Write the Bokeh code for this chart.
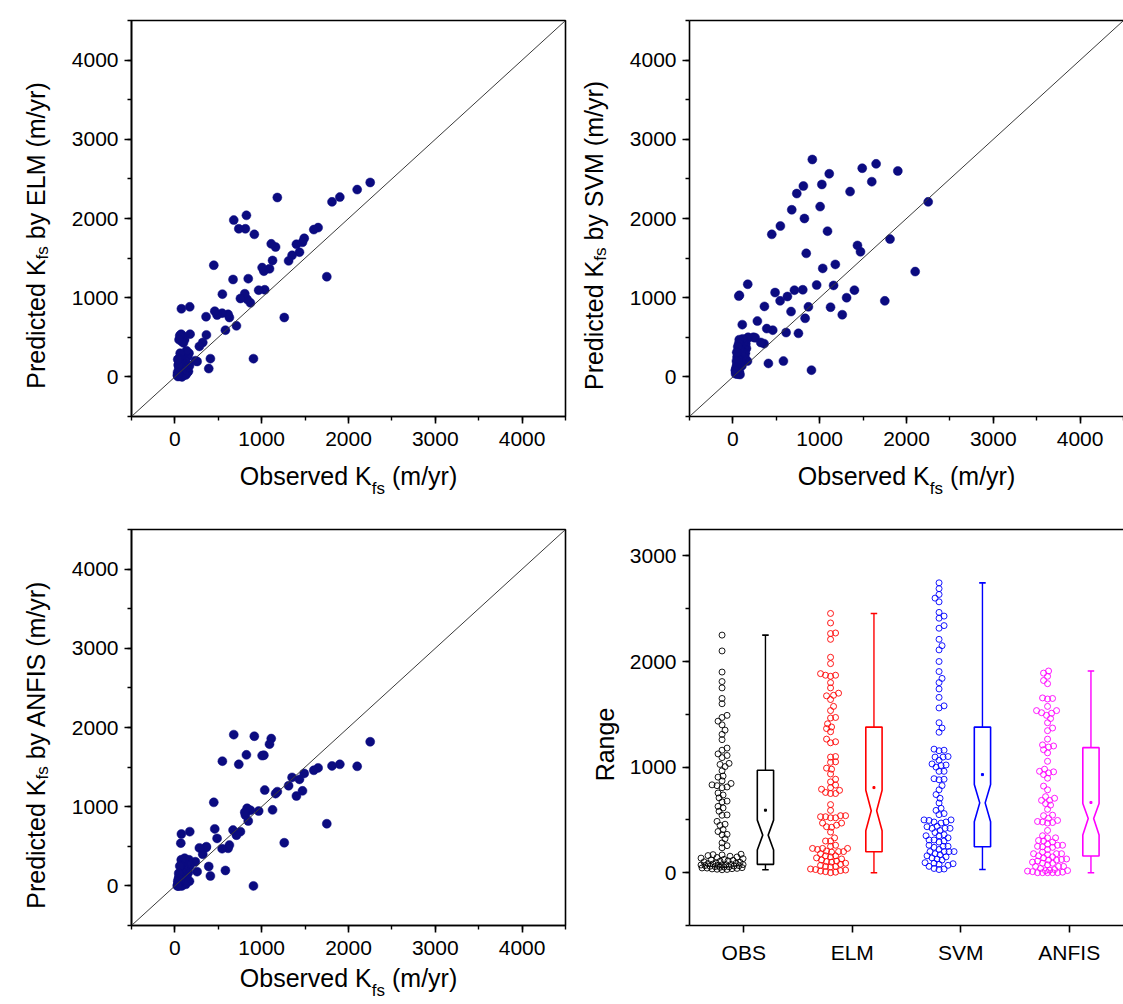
import numpy as np
from bokeh.plotting import figure
from bokeh.layouts import column, row
from bokeh.models import Range1d, SingleIntervalTicker, FixedTicker, Slope, LinearAxis
from bokeh.embed import file_html
from bokeh.resources import INLINE

# ---------------- data ----------------
observed = [2250, 2100, 1900, 1810, 1750, 1650, 1600, 1490, 1470, 1435, 1400, 1350, 1310, 1260,
            1180, 1160, 1125, 1110, 1090, 1035, 1025, 1005, 965, 915, 905, 870, 845, 832, 824,
            812, 805, 755, 736, 709, 678, 670, 628, 613, 582, 547, 544, 486, 459, 448, 409, 390,
            363, 359, 321, 282, 256, 236, 171, 75, 68,
            175, 168, 162, 156, 149, 144, 138, 133, 126, 121, 117, 112, 108, 103, 98, 94, 89, 86,
            82, 78, 77, 74, 73, 70, 67, 63, 61, 58, 56, 53, 51, 48, 45, 44, 41, 38, 36, 33, 31, 28]
pred_elm = [2455, 2365, 2270, 2210, 1265, 1885, 1860, 1750, 1700, 1575, 1675, 1535, 1465, 750,
            2265, 1640, 1470, 1680, 1365, 1100, 1335, 1380, 1095, 1800, 230, 935, 1240, 980, 2040,
            1870, 1050, 990, 1870, 645, 1980, 1230, 750, 790, 590, 1045, 805, 780, 830, 1410, 230, 105,
            530, 760, 435, 385, 195, 205, 885, 860, 530,
            540, 140, 300, 70, 260, 55, 160, 330, 25, 200, 80, 470, 30, 120, 430, 160, 100, 520,
            0, 450, 200, 60, 540, 130, 250, 15, 300, 90, 520, 180, 10, 470, 110, 230, 35, 150, 5, 220, 60, 20]
pred_svm = [2210, 1330, 2600, 1740, 960, 2690, 2465, 2635, 1580, 1660, 1095, 2340, 1000, 785,
            1420, 1155, 880, 2565, 1840, 1370, 2430, 2150, 1160, 2745, 85, 885, 1560, 740, 2000,
            2410, 1100, 550, 2315, 1095, 2110, 825, 1015, 560, 200, 1905, 960, 1065, 590, 1800, 170, 610,
            890, 420, 435, 705, 495, 500, 1170, 1030, 1020,
            500, 200, 480, 360, 420, 300, 250, 350, 440, 310, 260, 480, 660, 140, 330, 290, 200, 400,
            30, 350, 160, 70, 470, 240, 420, 130, 220, 90, 380, 180, 35, 250, 150, 310, 200, 120, 60, 95, 40, 80]
pred_anfis = [1820, 1510, 1535, 1515, 785, 1490, 1460, 1420, 1200, 1345, 1135, 1370, 1265, 545,
              1190, 1165, 960, 1860, 1790, 1210, 1650, 1645, 945, 1890, 0, 955, 820, 980, 1655,
              895, 930, 685, 1535, 640, 1910, 705, 515, 475, 195, 1575, 470, 600, 720, 1055, 125, 245,
              495, 485, 400, 480, 180, 305, 685, 655, 540,
              260, 60, 330, 170, 300, 220, 120, 270, 20, 180, 90, 350, 130, 25, 240, 150, 60, 290,
              0, 180, 110, 15, 330, 100, 260, 5, 140, 40, 250, 75, 0, 120, 20, 160, 90, 30, 0, 60, 10, 0]

box_categories = ["OBS", "ELM", "SVM", "ANFIS"]
box_colors = ["#000000", "#ff0000", "#0000ff", "#ff00ff"]
box_q1 = [79, 199, 246, 158]
box_q3 = [970, 1379, 1379, 1184]
box_median = [356, 586, 661, 513]
box_notch_lo = [214, 397, 482, 356]
box_notch_hi = [498, 781, 835, 655]
box_whisker_lo = [28, 0, 30, 0]
box_whisker_hi = [2250, 2455, 2745, 1910]
box_mean = [592, 806, 929, 665]

# ---------------- styling / geometry ----------------
FONT = "Liberation Sans"
NAVY = "#0b0b80"
FW = 434
FH = 396
SC_RANGE = (-500, 4500)
BOX_YRANGE = (-500, 3250)
BOX_XRANGE = (0.5, 4.5)
LABEL_PX = 25
SUB_PX = 17

ARIAL = {' ': 278, '(': 333, ')': 333, '/': 278, 'A': 667, 'E': 667, 'F': 611, 'I': 278,
         'K': 667, 'L': 556, 'M': 833, 'N': 722, 'O': 778, 'P': 667, 'R': 722, 'S': 667,
         'V': 667, 'a': 556, 'b': 556, 'c': 500, 'd': 556, 'e': 556, 'f': 278, 'g': 556,
         'i': 222, 'm': 833, 'n': 556, 'r': 333, 's': 500, 't': 278, 'v': 500, 'y': 500}


def tw(s, size):
    return sum(ARIAL.get(ch, 556) for ch in s) * size / 1000.0


def make_fig(width, height, bl, br, bt, bb, xr, yr, open_right=False):
    p = figure(width=width, height=height, x_range=Range1d(*xr), y_range=Range1d(*yr),
               output_backend="svg", toolbar_location=None,
               min_border_left=bl, min_border_right=br, min_border_top=bt, min_border_bottom=bb)
    p.grid.visible = False
    p.background_fill_color = "white"
    p.border_fill_color = "white"
    for ax in (p.below[0], p.left[0]):
        ax.axis_line_color = "black"
        ax.axis_line_width = 1.6
        ax.major_tick_line_color = "black"
        ax.major_tick_line_width = 1.6
        ax.minor_tick_line_color = "black"
        ax.minor_tick_line_width = 1.4
        ax.major_tick_in = 0
        ax.major_tick_out = 7
        ax.minor_tick_in = 0
        ax.minor_tick_out = 4
        ax.major_label_text_font = FONT
        ax.major_label_text_font_size = "21px"
        ax.major_label_text_color = "black"
    p.left[0].major_label_standoff = 6
    p.below[0].major_label_standoff = 8
    if open_right:
        # the frame runs past the page edge: draw only its top edge, no right edge
        p.outline_line_color = None
        top = LinearAxis(ticker=FixedTicker(ticks=[], minor_ticks=[]), axis_line_color="black",
                         axis_line_width=1.6, major_tick_out=0, major_tick_in=0,
                         minor_tick_out=0, minor_tick_in=0, major_label_standoff=0,
                         major_label_text_font_size="1px")
        p.add_layout(top, "above")
    else:
        p.outline_line_color = "black"
        p.outline_line_width = 1.6
        p.outline_line_alpha = 1.0
    return p


def text_axis(p, side, positions, texts, size, standoff, vertical=False):
    ax = LinearAxis(ticker=FixedTicker(ticks=positions, minor_ticks=[]),
                    major_label_overrides=dict(zip(positions, texts)),
                    axis_line_color=None, major_tick_line_color=None, minor_tick_line_color=None,
                    major_tick_out=0, major_tick_in=0, minor_tick_out=0, minor_tick_in=0,
                    major_label_text_font=FONT, major_label_text_font_size=f"{size}px",
                    major_label_text_color="black", major_label_standoff=standoff)
    if vertical:
        ax.major_label_orientation = "vertical"
    p.add_layout(ax, side)


def pieces_centers(parts, start_px):
    out = []
    pos = start_px
    for t, s, gap in parts:
        pos += gap
        w = tw(t, s)
        out.append(pos + w / 2)
        pos += w
    return out


def add_split_label(p, side, rng, flen, main1, sub, main2, centre_px, s_main, s_sub, vertical):
    sp = tw(" ", LABEL_PX)
    parts = [(main1, LABEL_PX, 0), (sub, SUB_PX, 0), (main2, LABEL_PX, sp)]
    total = sum(tw(t, s) for t, s, _ in parts) + sp
    c = pieces_centers(parts, centre_px - total / 2)
    upp = (rng[1] - rng[0]) / flen
    d = [int(round(rng[0] + v * upp)) for v in c]
    text_axis(p, side, [d[0], d[2]], [main1, main2], LABEL_PX, s_main, vertical)
    text_axis(p, side, [d[1]], [sub], SUB_PX, s_sub, vertical)


def scatter_panel(width, height, bl, br, bt, bb, pred, model, s_x, open_right=False):
    p = make_fig(width, height, bl, br, bt, bb, SC_RANGE, SC_RANGE, open_right)
    for ax in (p.below[0], p.left[0]):
        ax.ticker = SingleIntervalTicker(interval=1000, num_minor_ticks=2)
    p.add_layout(Slope(gradient=1, y_intercept=0, line_color="#3a3a3a", line_width=1))
    p.scatter(observed, pred, size=9, fill_color=NAVY, line_color=NAVY, line_width=0.5)
    add_split_label(p, "below", SC_RANGE, FW, "Observed K", "fs", "(m/yr)", FW / 2,
                    s_x, -14, False)
    add_split_label(p, "left", SC_RANGE, FH, "Predicted K", "fs", f"by {model} (m/yr)",
                    FH / 2 - 17, 18, -33, True)
    return p


# Page has no margin: top frames at y 20..416, bottom frames at 529..925
p1 = scatter_panel(575, 510, 131, 10, 20, 94, pred_elm, "ELM", 13)
p2 = scatter_panel(548, 510, 114, 0, 20, 94, pred_svm, "SVM", 13, open_right=True)
p3 = scatter_panel(575, 492, 131, 10, 19, 77, pred_anfis, "ANFIS", 6)

# ---------------- box panel ----------------
p4 = make_fig(548, 492, 114, 0, 19, 77, BOX_XRANGE, BOX_YRANGE, open_right=True)
p4.left[0].ticker = SingleIntervalTicker(interval=1000, num_minor_ticks=2)
p4.below[0].ticker = FixedTicker(ticks=[1, 2, 3, 4], minor_ticks=[])
p4.below[0].major_label_overrides = {i + 1: c for i, c in enumerate(box_categories)}

x_ppu = FW / (BOX_XRANGE[1] - BOX_XRANGE[0])
y_ppu = FH / (BOX_YRANGE[1] - BOX_YRANGE[0])


def swarm_offsets(vals, d=4.8, max_px=21):
    vals = np.asarray(vals, float)
    order = np.argsort(vals, kind="stable")
    cands = [0.0]
    for k in range(1, max_px + 1):
        cands += [float(k), float(-k)] if k % 2 else [float(-k), float(k)]
    px, py = [], []
    out = np.zeros(len(vals))
    for i in order:
        y = vals[i] * y_ppu
        best, best_score = 0.0, -1.0
        if px:
            ax = np.array(px)
            ay = np.array(py)
            for c in cands:
                dm = float(np.min((ax - c) ** 2 + (ay - y) ** 2))
                if dm >= d * d:
                    best = c
                    break
                if dm > best_score:
                    best_score, best = dm, c
        px.append(best)
        py.append(y)
        out[i] = best
    return out / x_ppu


series = [observed, pred_elm, pred_svm, pred_anfis]
half_w = 0.075
notch_w = 0.025
cap_w = 0.03
for i, (vals, col) in enumerate(zip(series, box_colors)):
    c = i + 1
    xs = (c - 0.2) + swarm_offsets(vals)
    p4.scatter(xs, vals, size=6, fill_alpha=0, line_color=col, line_width=0.9)
    bc = c + 0.2
    bx = [bc - half_w, bc + half_w, bc + half_w, bc + notch_w, bc + half_w, bc + half_w,
          bc - half_w, bc - half_w, bc - notch_w, bc - half_w]
    by = [box_q1[i], box_q1[i], box_notch_lo[i], box_median[i], box_notch_hi[i], box_q3[i],
          box_q3[i], box_notch_hi[i], box_median[i], box_notch_lo[i]]
    p4.patch(bx, by, fill_alpha=0, line_color=col, line_width=1.6)
    p4.segment(x0=[bc, bc], y0=[box_q3[i], box_q1[i]], x1=[bc, bc],
               y1=[box_whisker_hi[i], box_whisker_lo[i]], line_color=col, line_width=1.4)
    p4.segment(x0=[bc - cap_w, bc - cap_w], y0=[box_whisker_hi[i], box_whisker_lo[i]],
               x1=[bc + cap_w, bc + cap_w], y1=[box_whisker_hi[i], box_whisker_lo[i]],
               line_color=col, line_width=1.6)
    p4.scatter([bc], [box_mean[i]], marker="square", size=2, fill_color=col, line_color=col)

# y label "Range"
range_pos = int(round(BOX_YRANGE[0] + (FH / 2 - 17) * (BOX_YRANGE[1] - BOX_YRANGE[0]) / FH))
text_axis(p4, "left", [range_pos], ["Range"], LABEL_PX, 7, True)

layout = column(row(p1, p2), row(p3, p4))
open("out.html", "w").write(file_html(layout, INLINE))
